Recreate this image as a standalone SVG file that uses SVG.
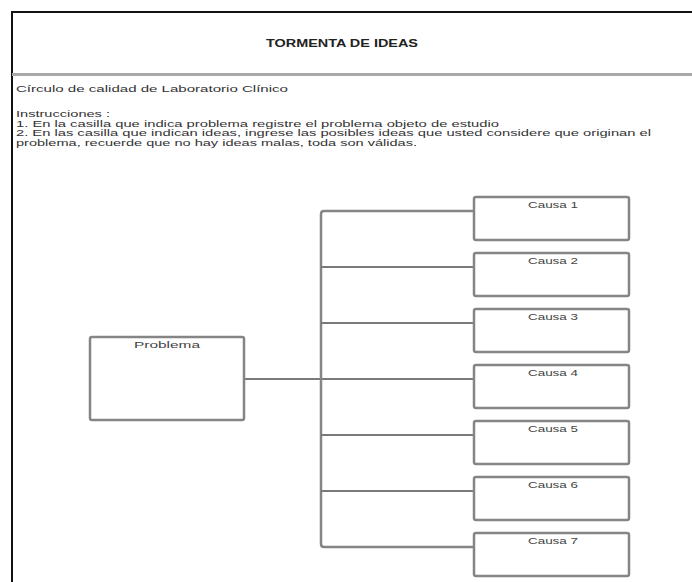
<svg xmlns="http://www.w3.org/2000/svg" width="692" height="582" viewBox="0 0 692 582">
  <style>
    .frame { fill: none; stroke: #111; stroke-width: 2; }
    .rule { fill: none; stroke: #a8a8a8; stroke-width: 3; }
    .title { font-family: "Liberation Sans", Arial, sans-serif; font-size: 10px; font-weight: bold; fill: #222; }
    .body { font-family: "Liberation Sans", Arial, sans-serif; font-size: 9.5px; fill: #333; }
    .box { fill: #fff; stroke: #858585; stroke-width: 2.5; }
    .label { font-family: "Liberation Sans", Arial, sans-serif; font-size: 9.5px; fill: #444; text-anchor: middle; }
    .link { fill: none; stroke: #7a7a7a; stroke-width: 2; }
    .trunk { fill: none; stroke: #858585; stroke-width: 2.5; }
  </style>
  <rect width="692" height="582" fill="#fff"/>

  <!-- page frame and header -->
  <g id="header">
    <path class="frame" d="M12 582 V12 H692"/>
    <line class="rule" x1="12" y1="74.5" x2="692" y2="74.5"/>
    <text class="title" x="266" y="47" textLength="152" lengthAdjust="spacingAndGlyphs">TORMENTA DE IDEAS</text>
  </g>

  <!-- instructions -->
  <g id="instructions">
    <text class="body" x="16" y="92" textLength="272" lengthAdjust="spacingAndGlyphs">Círculo de calidad de Laboratorio Clínico</text>
    <text class="body" x="16" y="117" textLength="94" lengthAdjust="spacingAndGlyphs">Instrucciones :</text>
    <text class="body" x="16" y="126.5" textLength="483" lengthAdjust="spacingAndGlyphs">1. En la casilla  que indica problema registre el problema objeto de estudio</text>
    <text class="body" x="16" y="136" textLength="635" lengthAdjust="spacingAndGlyphs">2. En las casilla que indican  ideas,  ingrese  las posibles ideas que usted considere que originan el</text>
    <text class="body" x="16" y="145.5" textLength="401" lengthAdjust="spacingAndGlyphs">problema, recuerde que no hay ideas malas, toda son válidas.</text>
  </g>

  <!-- connectors -->
  <g id="connectors">
    <line class="link" x1="244" y1="379" x2="474" y2="379"/>
    <path class="trunk" d="M474 211 H324 Q321 211 321 214 V544 Q321 547 324 547 H474"/>
    <line class="link" x1="321" y1="267" x2="474" y2="267"/>
    <line class="link" x1="321" y1="323" x2="474" y2="323"/>
    <line class="link" x1="321" y1="435" x2="474" y2="435"/>
    <line class="link" x1="321" y1="491" x2="474" y2="491"/>
  </g>

  <!-- problem node -->
  <g id="problema">
    <rect class="box" x="90" y="337" width="154" height="83" rx="2"/>
    <text class="label" x="167" y="348" textLength="66" lengthAdjust="spacingAndGlyphs">Problema</text>
  </g>

  <!-- cause nodes -->
  <g id="causa-1">
    <rect class="box" x="474" y="197" width="155" height="43" rx="2"/>
    <text class="label" x="553" y="208" textLength="50" lengthAdjust="spacingAndGlyphs">Causa 1</text>
  </g>
  <g id="causa-2">
    <rect class="box" x="474" y="253" width="155" height="43" rx="2"/>
    <text class="label" x="553" y="264" textLength="50" lengthAdjust="spacingAndGlyphs">Causa 2</text>
  </g>
  <g id="causa-3">
    <rect class="box" x="474" y="309" width="155" height="43" rx="2"/>
    <text class="label" x="553" y="320" textLength="50" lengthAdjust="spacingAndGlyphs">Causa 3</text>
  </g>
  <g id="causa-4">
    <rect class="box" x="474" y="365" width="155" height="43" rx="2"/>
    <text class="label" x="553" y="376" textLength="50" lengthAdjust="spacingAndGlyphs">Causa 4</text>
  </g>
  <g id="causa-5">
    <rect class="box" x="474" y="421" width="155" height="43" rx="2"/>
    <text class="label" x="553" y="432" textLength="50" lengthAdjust="spacingAndGlyphs">Causa 5</text>
  </g>
  <g id="causa-6">
    <rect class="box" x="474" y="477" width="155" height="43" rx="2"/>
    <text class="label" x="553" y="488" textLength="50" lengthAdjust="spacingAndGlyphs">Causa 6</text>
  </g>
  <g id="causa-7">
    <rect class="box" x="474" y="533" width="155" height="43" rx="2"/>
    <text class="label" x="553" y="544" textLength="50" lengthAdjust="spacingAndGlyphs">Causa 7</text>
  </g>
</svg>
